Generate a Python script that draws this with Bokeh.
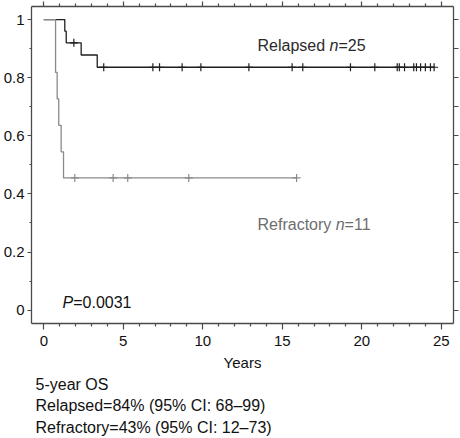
import numpy as np
from bokeh.plotting import figure
from bokeh.models import Range1d, LinearAxis, FixedTicker, Label, CustomJSTickFormatter, Title
from bokeh.embed import file_html
from bokeh.resources import INLINE

# ---------------- data ----------------
relapsed_step_times = [0.0, 1.32, 1.41, 2.35, 3.36, 24.55]
relapsed_survival = [1.0, 0.96, 0.92, 0.878, 0.836, 0.836]
relapsed_censor_times = [1.89, 3.77, 6.86, 7.28, 8.70, 9.88, 12.90, 15.62, 16.29,
                         19.29, 20.82, 22.23, 22.36, 22.69, 23.27, 23.44, 23.70,
                         24.00, 24.32, 24.55]

refractory_step_times = [0.0, 0.74, 0.84, 0.94, 1.09, 1.24, 15.90]
refractory_survival = [1.0, 0.818, 0.727, 0.636, 0.545, 0.455, 0.455]
refractory_censor_times = [1.95, 4.36, 5.28, 9.12, 15.90]

x_ticks = [0, 5, 10, 15, 20, 25]
x_minor_ticks = [t for t in range(0, 26) if t % 5 != 0]
y_ticks = [0, 0.2, 0.4, 0.6, 0.8, 1.0]
y_tick_labels = ["0", "0.2", "0.4", "0.6", "0.8", "1"]
y_minor_ticks = [0.1, 0.3, 0.5, 0.7, 0.9]

x_title = "Years"
relapsed_label = ("Relapsed", "n", "=25")
refractory_label = ("Refractory", "n", "=11")
p_label = ("P", "=0.0031")
os_lines = ["5-year OS",
            "Relapsed=84% (95% CI: 68\u201399)",
            "Refractory=43% (95% CI: 12\u201373)"]

# ---------------- styling ----------------
FONT = "Liberation Sans"
AX = "#4a4a4a"
DARK = "#1e1e1e"
GREY = "#8a8a8a"

W, H = 460, 438
BL, BR, BT, BB = 31, 7, 6, 115
FRAME_LEFT, FRAME_BOTTOM = BL, H - BB

p = figure(width=W, height=H,
           x_range=Range1d(-0.774, 25.77), y_range=Range1d(-0.046, 1.045),
           output_backend="svg", toolbar_location=None,
           x_axis_type=None, y_axis_type=None,
           min_border_left=BL, min_border_right=BR,
           min_border_top=BT, min_border_bottom=BB)
p.grid.visible = False
p.outline_line_color = None
p.background_fill_color = "white"
p.border_fill_color = "white"


def style_axis(ax, major_out, minor_out):
    ax.axis_line_color = AX
    ax.axis_line_width = 1.3
    ax.major_tick_line_color = AX
    ax.minor_tick_line_color = AX
    ax.major_tick_line_width = 1.2
    ax.minor_tick_line_width = 1.2
    ax.major_tick_in = 0
    ax.minor_tick_in = 0
    ax.major_tick_out = major_out
    ax.minor_tick_out = minor_out
    ax.major_label_text_font = FONT
    ax.major_label_text_font_size = "15px"
    ax.major_label_text_color = "#111111"


xt = FixedTicker(ticks=x_ticks, minor_ticks=x_minor_ticks)
yt = FixedTicker(ticks=y_ticks, minor_ticks=y_minor_ticks)
blank = CustomJSTickFormatter(code="return ''")

xb = LinearAxis(ticker=xt)
style_axis(xb, 6, 3)
xb.major_label_standoff = 6
xb.axis_label = x_title
xb.axis_label_text_font = FONT
xb.axis_label_text_font_size = "15px"
xb.axis_label_text_font_style = "normal"
xb.axis_label_text_color = "#111111"
xb.axis_label_standoff = 5
p.add_layout(xb, "below")

yl = LinearAxis(ticker=yt)
style_axis(yl, 4, 2)
yl.major_label_standoff = 3
yl.major_label_overrides = {t: s for t, s in zip(y_ticks, y_tick_labels)}
p.add_layout(yl, "left")

xa = LinearAxis(ticker=xt, formatter=blank)
style_axis(xa, 5, 3)
xa.major_label_text_font_size = "0px"
xa.major_label_standoff = 0
p.add_layout(xa, "above")

yr = LinearAxis(ticker=yt, formatter=blank)
style_axis(yr, 5, 5)
yr.major_label_text_font_size = "0px"
yr.major_label_standoff = 0
p.add_layout(yr, "right")


def censor_levels(step_times, surv, censor_times):
    idx = np.searchsorted(np.asarray(step_times), np.asarray(censor_times), side="right") - 1
    return [surv[i] for i in idx]


# curves
p.step(relapsed_step_times, relapsed_survival, mode="after",
       line_color=DARK, line_width=1.3)
p.scatter(relapsed_censor_times,
          censor_levels(relapsed_step_times, relapsed_survival, relapsed_censor_times),
          marker="cross", size=8, line_color=DARK, line_width=1.2)

p.step(refractory_step_times, refractory_survival, mode="after",
       line_color=GREY, line_width=1.3)
p.scatter(refractory_censor_times,
          censor_levels(refractory_step_times, refractory_survival, refractory_censor_times),
          marker="cross", size=8, line_color=GREY, line_width=1.2)


# ---------------- texts inside the frame ----------------
def add_text(cx, cy, text, color="#111111", style="normal", size="16px"):
    # (cx, cy): canvas position of the text start / baseline, measured from the
    # canvas top-left; Label screen units are relative to the frame's bottom-left
    lab = Label(x=cx - FRAME_LEFT, y=FRAME_BOTTOM - cy, x_units="screen", y_units="screen",
                text=text, text_font=FONT, text_font_size=size, text_color=color,
                text_font_style=style, text_baseline="alphabetic", text_align="left")
    p.add_layout(lab)


WIDTHS = {"Relapsed": 72.0, "Refractory": 78.2, "n": 8.9, "P": 10.7}


def add_rich(x, y, parts, styles, color):
    cx = x
    for part, st in zip(parts, styles):
        add_text(cx, y, part, color, st)
        cx += WIDTHS.get(part, 0)


add_rich(257, 45, relapsed_label, ["normal", "italic", "normal"], "#2a2a2a")
add_rich(257, 224, refractory_label, ["normal", "italic", "normal"], "#6e6e6e")
add_rich(62, 302, p_label, ["italic", "normal"], "#111111")

# ---------------- 5-year OS lines below the axis ----------------
for i, line in enumerate(os_lines):
    t = Title(text=line, align="left", offset=4, standoff=1 if i == 0 else 3,
              text_font=FONT, text_font_size="16px", text_font_style="normal",
              text_color="#111111")
    p.add_layout(t, "below")

open("out.html", "w").write(file_html(p, INLINE))
